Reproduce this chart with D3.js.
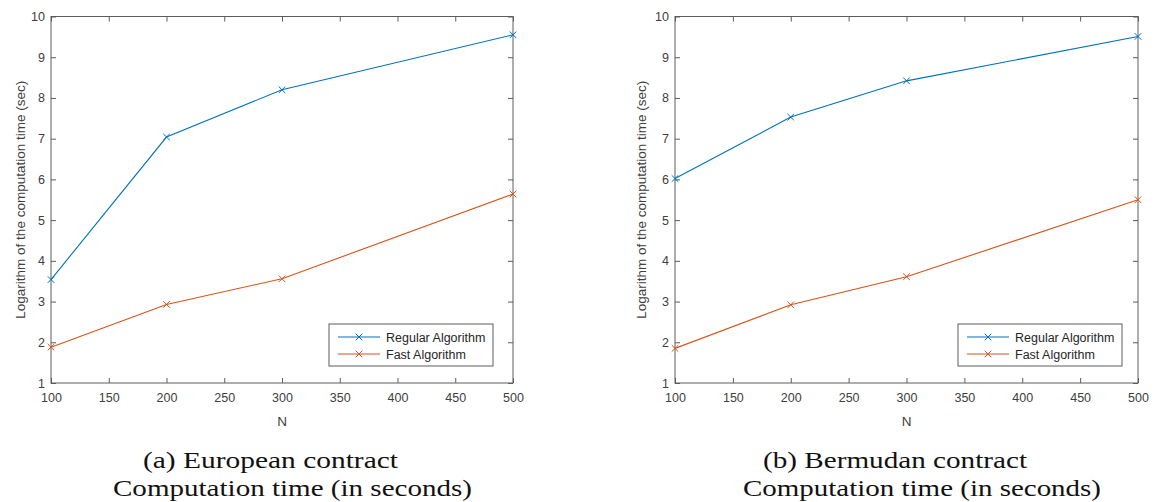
<!DOCTYPE html>
<html>
<head>
<meta charset="utf-8">
<script src="https://cdn.jsdelivr.net/npm/d3@7/dist/d3.min.js"></script>
<style>
  html, body { margin: 0; padding: 0; background: #fff; }
  svg { display: block; }
  .tick text { font-family: "Liberation Sans", Arial, sans-serif; font-size: 12.5px; fill: #404040; }
</style>
</head>
<body>
<svg id="chart" width="1158" height="502"></svg>
<script>
// Problem sizes and log computation times (seconds)
const nValues = [100, 200, 300, 500];
const europeanRegular = [3.54, 7.04, 8.2, 9.55];
const europeanFast = [1.88, 2.93, 3.56, 5.64];
const bermudanRegular = [6.02, 7.53, 8.42, 9.51];
const bermudanFast = [1.85, 2.92, 3.61, 5.5];

const xTicks = [100, 150, 200, 250, 300, 350, 400, 450, 500];
const yTicks = [1, 2, 3, 4, 5, 6, 7, 8, 9, 10];
const seriesNames = ["Regular Algorithm", "Fast Algorithm"];
const seriesColors = ["#0072BD", "#D95319"];

const xLabel = "N";
const yLabel = "Logarithm of the computation time (sec)";

const svg = d3.select("#chart");
const axisColor = "#5c5c5c";
const sansFont = '"Liberation Sans", Arial, sans-serif';
const serifFont = '"Liberation Serif", "Times New Roman", serif';

function crossPath(cx, cy, r) {
  return `M${cx - r},${cy - r}L${cx + r},${cy + r}M${cx - r},${cy + r}L${cx + r},${cy - r}`;
}

function drawPanel(cfg) {
  const g = svg.append("g");
  const x = d3.scaleLinear().domain([100, 500]).range([cfg.left, cfg.right]);
  const y = d3.scaleLinear().domain([1, 10]).range([383, 16.5]);

  // bottom axis with labels, ticks pointing into the plot
  const bottom = g.append("g").attr("transform", `translate(0,${y(1)})`)
    .call(d3.axisBottom(x).tickValues(xTicks).tickSize(-5).tickPadding(10).tickSizeOuter(0));
  const top = g.append("g").attr("transform", `translate(0,${y(10)})`)
    .call(d3.axisTop(x).tickValues(xTicks).tickSize(-5).tickFormat("").tickSizeOuter(0));
  const left = g.append("g").attr("transform", `translate(${x(100)},0)`)
    .call(d3.axisLeft(y).tickValues(yTicks).tickSize(-5).tickPadding(6).tickSizeOuter(0));
  const right = g.append("g").attr("transform", `translate(${x(500)},0)`)
    .call(d3.axisRight(y).tickValues(yTicks).tickSize(-5).tickFormat("").tickSizeOuter(0));

  [bottom, top, left, right].forEach(a => {
    a.select(".domain").remove();
    a.selectAll(".tick line").attr("stroke", axisColor).attr("stroke-width", 1);
  });

  // plot box
  g.append("rect")
    .attr("x", x(100)).attr("y", y(10))
    .attr("width", x(500) - x(100)).attr("height", y(1) - y(10))
    .attr("fill", "none").attr("stroke", axisColor).attr("stroke-width", 1);

  // series lines and cross markers
  const line = d3.line().x((d, i) => x(nValues[i])).y(d => y(d));
  cfg.series.forEach((vals, si) => {
    g.append("path").datum(vals)
      .attr("d", line)
      .attr("fill", "none")
      .attr("stroke", seriesColors[si])
      .attr("stroke-width", 1.1);
    g.selectAll(null).data(vals).enter().append("path")
      .attr("d", (d, i) => crossPath(x(nValues[i]), y(d), 3.3))
      .attr("stroke", seriesColors[si])
      .attr("stroke-width", 1)
      .attr("fill", "none");
  });

  // axis titles
  g.append("text")
    .attr("x", (x(100) + x(500)) / 2).attr("y", 426)
    .attr("text-anchor", "middle")
    .attr("font-family", sansFont).attr("font-size", 13.5)
    .attr("fill", "#404040")
    .text(xLabel);
  g.append("text")
    .attr("transform", `translate(${cfg.yLabelX},${(y(1) + y(10)) / 2}) rotate(-90)`)
    .attr("text-anchor", "middle")
    .attr("font-family", sansFont).attr("font-size", 13.5)
    .attr("fill", "#404040")
    .text(yLabel);

  // legend
  const lg = g.append("g");
  lg.append("rect")
    .attr("x", cfg.legendX).attr("y", 324)
    .attr("width", 164).attr("height", 42)
    .attr("fill", "#fff").attr("stroke", axisColor).attr("stroke-width", 1);
  seriesNames.forEach((name, i) => {
    const ly = 337 + i * 17;
    const lx0 = cfg.legendX + 9, lx1 = cfg.legendX + 51;
    lg.append("line")
      .attr("x1", lx0).attr("x2", lx1).attr("y1", ly).attr("y2", ly)
      .attr("stroke", seriesColors[i]).attr("stroke-width", 1.1);
    lg.append("path")
      .attr("d", crossPath((lx0 + lx1) / 2, ly, 3.3))
      .attr("stroke", seriesColors[i]).attr("stroke-width", 1).attr("fill", "none");
    lg.append("text")
      .attr("x", cfg.legendX + 57).attr("y", ly + 4.5)
      .attr("font-family", sansFont).attr("font-size", 12.5)
      .attr("fill", "#262626")
      .text(name);
  });

  // caption, two lines under the panel
  cfg.caption.forEach((c, i) => {
    g.append("text")
      .attr("x", c.x).attr("y", 468 + i * 28)
      .attr("font-family", serifFont).attr("font-size", 24)
      .attr("fill", "#111")
      .attr("textLength", c.w).attr("lengthAdjust", "spacingAndGlyphs")
      .text(c.text);
  });
}

drawPanel({
  left: 51, right: 513, yLabelX: 25, legendX: 329,
  series: [europeanRegular, europeanFast],
  caption: [
    { text: "(a) European contract", x: 143, w: 255 },
    { text: "Computation time (in seconds)", x: 113, w: 359 }
  ]
});

drawPanel({
  left: 675, right: 1138, yLabelX: 646, legendX: 958,
  series: [bermudanRegular, bermudanFast],
  caption: [
    { text: "(b) Bermudan contract", x: 763, w: 264 },
    { text: "Computation time (in seconds)", x: 743, w: 358 }
  ]
});
</script>
</body>
</html>
